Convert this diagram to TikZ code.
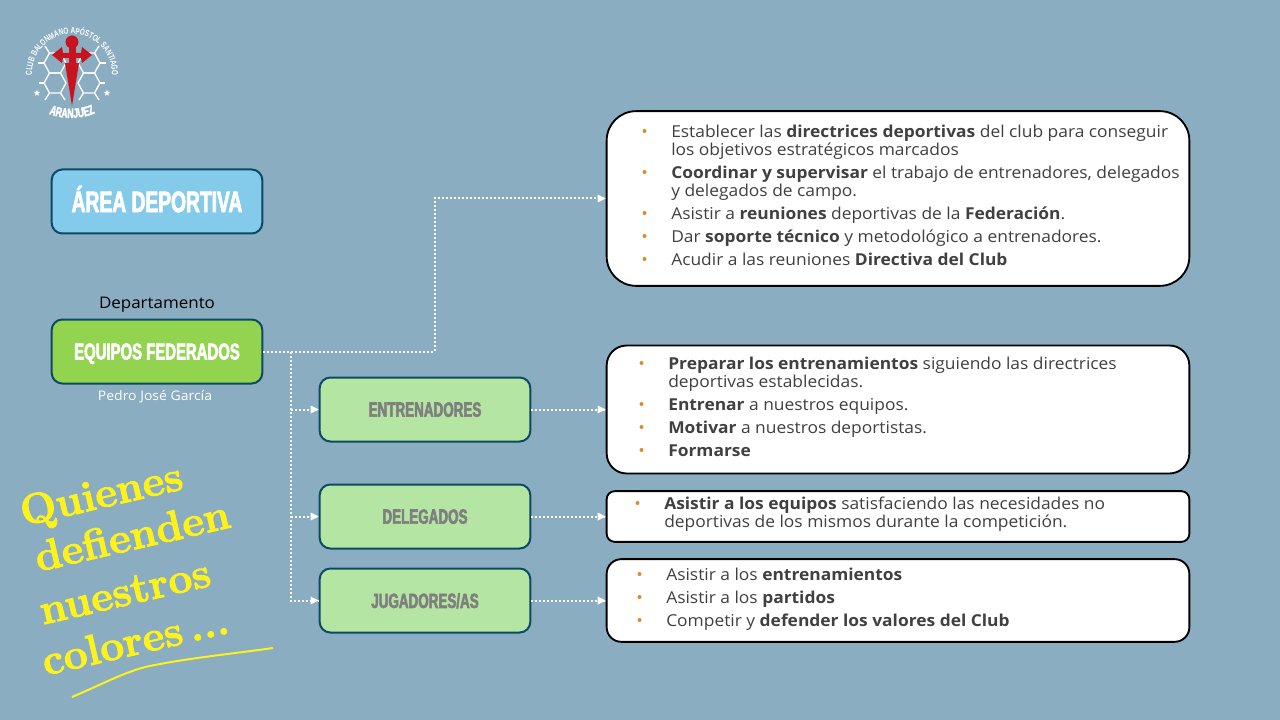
\documentclass[tikz,border=0pt]{standalone}
\usepackage{fontspec}
\setmainfont[FakeStretch=1.06]{Open Sans}
\newfontfamily\heavyfont[FakeStretch=0.65,FakeBold=2.5]{Liberation Sans}
\newfontfamily\badgefont[FakeStretch=0.72]{Liberation Sans}
\newfontfamily\symbolfont{DejaVu Sans}
\newfontfamily\sloganfont[ItalicFont={Latin Modern Roman},BoldItalicFeatures={FakeBold=2}]{Latin Modern Roman}
\usetikzlibrary{decorations.text}
\definecolor{slidebg}{HTML}{8AADC1}
\definecolor{boxedge}{HTML}{0B4A62}
\definecolor{areablue}{HTML}{83CAEB}
\definecolor{deptgreen}{HTML}{92D450}
\definecolor{rolegreen}{HTML}{B4E5A2}
\definecolor{rolegrey}{HTML}{7F7F7F}
\definecolor{bulletorange}{HTML}{DE8A2C}
\definecolor{bodygrey}{HTML}{404040}
\definecolor{crossred}{HTML}{C8141E}
\definecolor{scriptyellow}{HTML}{FFF21A}
\newcommand{\bulitem}{\leavevmode\llap{\textcolor{bulletorange}{•}\hspace{17.5pt}}}
\begin{document}
\begin{tikzpicture}[
x=0.75pt,y=-0.75pt,
headbox/.style={
rectangle,
rounded corners=8pt,
draw=boxedge,
line width=1.5pt,
minimum width=158pt,
minimum height=48pt,
inner sep=0pt,
text depth=0pt,
text=white
},
rolebox/.style={
headbox,
fill=rolegreen,
text=rolegrey,
font=\heavyfont\bfseries\fontsize{15.5}{17}\selectfont
},
textbox/.style={
rectangle,
draw=black,
line width=1.4pt,
fill=white,
minimum width=437pt,
inner sep=0pt
},
bodytext/.style={
anchor=west,
align=left,
inner sep=0pt,
text=bodygrey,
font=\fontsize{12.3}{13.5}\selectfont
},
link/.style={
draw=white,
line width=1.5pt,
dash pattern=on 1.5pt off 1.5pt
},
tip/.style={
fill=white
},
script/.style={
text=scriptyellow,
rotate=13,
font=\sloganfont\bfseries\itshape\fontsize{32}{34}\selectfont
},
honey/.style={
draw=white,
line width=1pt
},
badgestar/.style={
text=white,
inner sep=0pt,
font=\symbolfont\fontsize{7}{8}\selectfont
}
]

\fill[slidebg] (0,0) rectangle (1280,720);
\useasboundingbox (0,0) rectangle (1280,720);

% Club badge
\foreach \cx/\cy in {55/63,55/83,89/63,89/83}{
\draw[honey] (\cx-11,\cy) -- (\cx-5.5,\cy-10) -- (\cx+5.5,\cy-10) -- (\cx+11,\cy) -- (\cx+5.5,\cy+10) -- (\cx-5.5,\cy+10) -- cycle;
}
\draw[honey] (44,63) -- (38,63) (44,83) -- (39,83) (100,63) -- (106,63) (100,83) -- (105,83);
\draw[honey] (49.5,53) -- (45,46) (94.5,53) -- (99,46) (49.5,93) -- (45,100) (60.5,93) -- (65,100) (94.5,93) -- (99,100) (83.5,93) -- (79,100);
\fill[crossred] (72,42) circle (6.5);
\fill[crossred] (65,63) -- (79,63) -- (72,106) -- cycle;
\fill[crossred] (52,55) -- (62,47) -- (63,53) -- (81,53) -- (82,47) -- (92,55) -- (82,63) -- (81,58) -- (63,58) -- (62,63) -- cycle;
\fill[crossred] (68.5,46) rectangle (75.5,66);
\node[badgestar] (starl) at (37,93) {★};
\node[badgestar] (starr) at (107,93) {★};
\path[postaction={decorate,decoration={text along path,text align=center,
text={|\color{white}\badgefont\bfseries\fontsize{6.6}{7}\selectfont|CLUB BALONMANO APÓSTOL SANTIAGO}}}]
(32,74) arc[start angle=180,end angle=360,radius=40];
\path[postaction={decorate,decoration={text along path,text align=center,
text={|\color{white}\heavyfont\bfseries\fontsize{10}{11}\selectfont|ARANJUEZ}}}]
(45,112) .. controls (60,120) and (84,120) .. (99,111);

% Left column
\node[headbox,fill=areablue,text height=15.9pt,font=\heavyfont\bfseries\fontsize{22.2}{24}\selectfont] (area) at (157,201.5) {ÁREA DEPORTIVA};
\node[font=\fontsize{12}{14}\selectfont] (depto) at (157,305) {Departamento};
\node[headbox,fill=deptgreen,font=\heavyfont\bfseries\fontsize{17.2}{19}\selectfont] (equipos) at (157,351.5) {EQUIPOS FEDERADOS};
\node[text=white,font=\fontsize{9.9}{12}\selectfont] (pedro) at (155,397) {Pedro José García};

% Role boxes
\node[rolebox] (entrenadores) at (425,409.5) {ENTRENADORES};
\node[rolebox] (delegados) at (425,516.5) {DELEGADOS};
\node[rolebox] (jugadores) at (425,600.5) {JUGADORES/AS};

% White boxes
\node[textbox,rounded corners=22pt,minimum height=131pt] (topbox) at (898,198.5) {};
\node[textbox,rounded corners=15pt,minimum height=96pt] (entbox) at (898,409.5) {};
\node[textbox,rounded corners=6pt,minimum height=38pt] (delbox) at (898,516.5) {};
\node[textbox,rounded corners=11pt,minimum height=62pt] (jugbox) at (898,600.5) {};

\node[bodytext] (toptext) at (671,195.5) {\bulitem Establecer las \textbf{directrices deportivas} del club para conseguir\\
los objetivos estratégicos marcados\\[3.75pt]
\bulitem\textbf{Coordinar y supervisar} el trabajo de entrenadores, delegados\\
y delegados de campo.\\[3.75pt]
\bulitem Asistir a \textbf{reuniones} deportivas de la \textbf{Federación}.\\[3.75pt]
\bulitem Dar \textbf{soporte técnico} y metodológico a entrenadores.\\[3.75pt]
\bulitem Acudir a las reuniones \textbf{Directiva del Club}};

\node[bodytext] (enttext) at (668,407) {\bulitem\textbf{Preparar los entrenamientos} siguiendo las directrices\\
deportivas establecidas.\\[3.75pt]
\bulitem\textbf{Entrenar} a nuestros equipos.\\[3.75pt]
\bulitem\textbf{Motivar} a nuestros deportistas.\\[3.75pt]
\bulitem\textbf{Formarse}};

\node[bodytext] (deltext) at (664,514) {\bulitem\textbf{Asistir a los equipos} satisfaciendo las necesidades no\\
deportivas de los mismos durante la competición.};

\node[bodytext] (jugtext) at (666,599.5) {\bulitem Asistir a los \textbf{entrenamientos}\\[3.75pt]
\bulitem Asistir a los \textbf{partidos}\\[3.75pt]
\bulitem Competir y \textbf{defender los valores del Club}};

% Slogan
\node[script] (quienes) at (102,497) {Quienes};
\node[script] (defienden) at (132,535) {defienden};
\node[script] (nuestros) at (125,592) {nuestros};
\node[script] (colores) at (135,640) {colores\,...};
\draw[scriptyellow,line width=1.5pt] (72,697) .. controls (105,683) and (130,669) .. (155,665) .. controls (190,658) and (230,654) .. (273,648);

% Dotted shafts
\coordinate (trunk) at (291,351.5);
\coordinate (bend) at (435,351.5);
\coordinate (trunkent) at (291,409.5);
\coordinate (trunkdel) at (291,516.5);
\coordinate (trunkjug) at (291,600.5);

\draw[link] (equipos.east) -- (bend) |- (topbox.west);
\draw[link] (trunk) -- (trunkjug) -- (jugadores.west);
\draw[link] (trunkent) -- (entrenadores.west);
\draw[link] (trunkdel) -- (delegados.west);
\draw[link] (entrenadores.east) -- (entbox.west);
\draw[link] (delegados.east) -- (delbox.west);
\draw[link] (jugadores.east) -- (jugbox.west);

% Hand-drawn arrowheads
\fill[tip] (topbox.west) -- ++(-8,4) -- ++(0,-8) -- cycle;
\fill[tip] (entbox.west) -- ++(-8,4) -- ++(0,-8) -- cycle;
\fill[tip] (delbox.west) -- ++(-8,4) -- ++(0,-8) -- cycle;
\fill[tip] (jugbox.west) -- ++(-8,4) -- ++(0,-8) -- cycle;
\fill[tip] (entrenadores.west) -- ++(-8,4) -- ++(0,-8) -- cycle;
\fill[tip] (delegados.west) -- ++(-8,4) -- ++(0,-8) -- cycle;
\fill[tip] (jugadores.west) -- ++(-8,4) -- ++(0,-8) -- cycle;

\end{tikzpicture}
\end{document}
